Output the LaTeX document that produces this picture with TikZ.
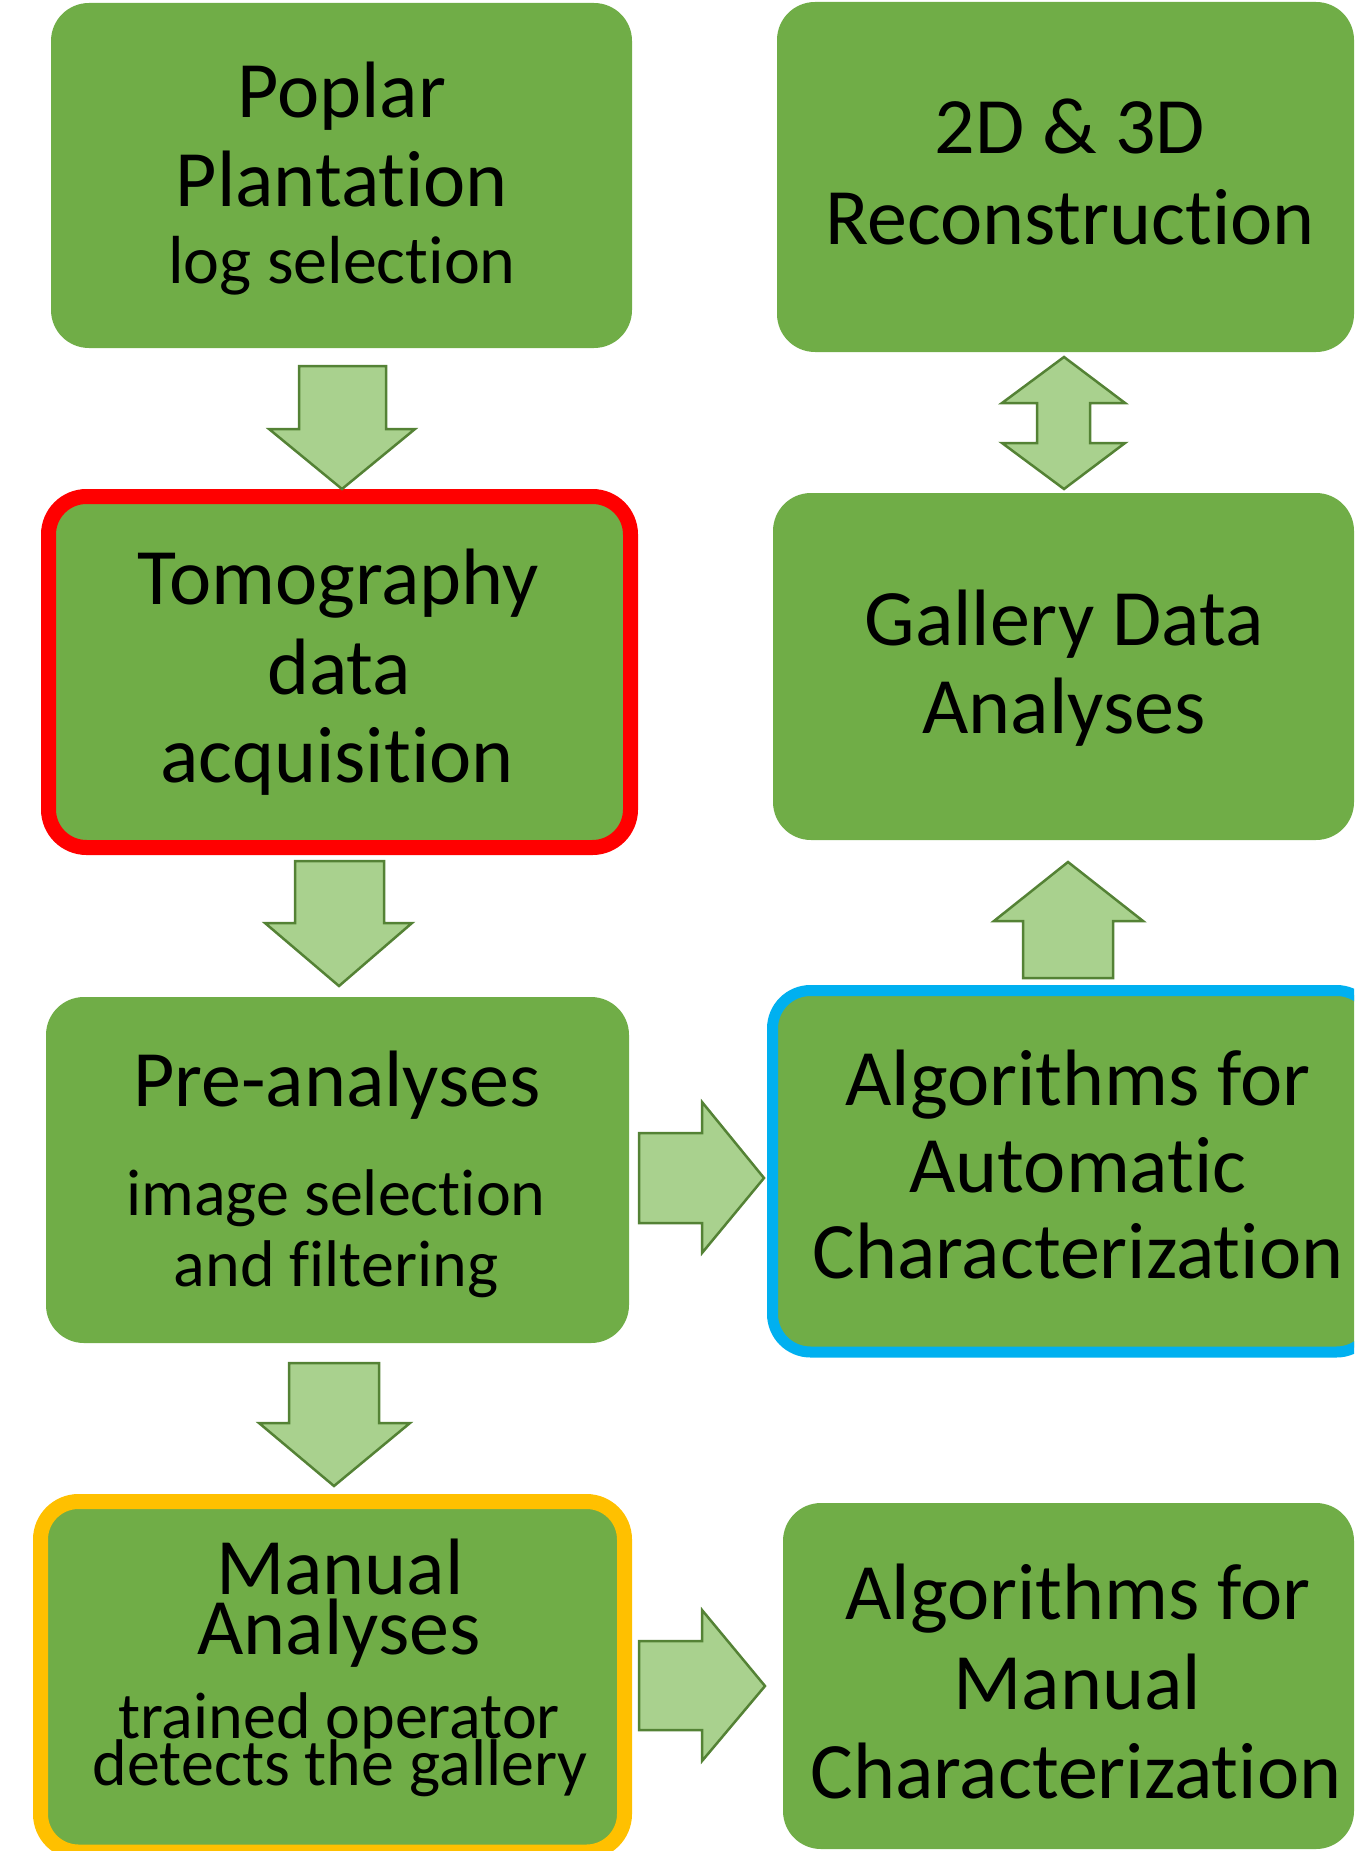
\documentclass[tikz,border=0pt]{standalone}
\usepackage{fontspec}
\setmainfont{Carlito}[Ligatures=NoCommon]

\definecolor{boxgreen}{HTML}{70AD47}
\definecolor{arrowfill}{HTML}{A9D18E}
\definecolor{arrowline}{HTML}{548235}
\definecolor{hlred}{HTML}{FF0000}
\definecolor{hlblue}{HTML}{00B0F0}
\definecolor{hlyellow}{HTML}{FFC000}

\tikzset{
  stage/.style={rectangle, fill=boxgreen, draw=none, rounded corners=38pt,
    inner sep=0pt, outer sep=0pt, anchor=north west},
  bigtext/.style={font=\fontsize{80}{91}\selectfont, inner sep=0pt, anchor=base},
  smalltext/.style={font=\fontsize{66}{72}\selectfont, inner sep=0pt, anchor=base},
  blockarrow/.style={fill=arrowfill, draw=arrowline, line width=2.5pt, line join=miter},
}

\begin{document}
\begin{tikzpicture}[x=1pt, y=-1pt]
  \useasboundingbox (0,0) rectangle (1354,1851);
  \clip (0,0) rectangle (1354,1851);

  % process boxes
  \node[stage, minimum width=581pt, minimum height=345pt] (poplar) at (51,3) {};
  \node[stage, minimum width=577pt, minimum height=350pt] (recon) at (777,2) {};
  \node[stage, draw=hlred, line width=15pt, minimum width=582pt, minimum height=351pt] (tomo) at (48.5,496.5) {};
  \node[stage, minimum width=581pt, minimum height=347pt] (gallery) at (773,493) {};
  \node[stage, minimum width=583pt, minimum height=346pt] (pre) at (46,997) {};
  \node[stage, draw=hlblue, line width=11pt, minimum width=602pt, minimum height=361.5pt] (auto) at (772.5,990.5) {};
  \node[stage, draw=hlyellow, line width=15pt, minimum width=584pt, minimum height=350.5pt] (manual) at (40.5,1501.5) {};
  \node[stage, minimum width=571pt, minimum height=346pt] (mchar) at (783,1503) {};

  % box texts
  \node[bigtext] (poplar-a) at (342,118) {Poplar};
  \node[bigtext] (poplar-b) at (342,207) {Plantation};
  \node[bigtext, font=\fontsize{68}{74}\selectfont] (poplar-c) at (342,284) {log selection};

  \node[bigtext] (recon-a) at (1070,154) {2D \& 3D};
  \node[bigtext] (recon-b) at (1070,245) {Reconstruction};

  \node[bigtext] (tomo-a) at (338,604) {Tomography};
  \node[bigtext] (tomo-b) at (339,694) {data};
  \node[bigtext] (tomo-c) at (337,782) {acquisition};

  \node[bigtext] (gallery-a) at (1064,645) {Gallery Data};
  \node[bigtext] (gallery-b) at (1064,733) {Analyses};

  \node[bigtext] (pre-a) at (337,1106) {Pre-analyses};
  \node[smalltext] (pre-b) at (336,1215) {image selection};
  \node[smalltext] (pre-c) at (336,1286) {and filtering};

  \node[bigtext] (auto-a) at (1078,1105) {Algorithms for};
  \node[bigtext] (auto-b) at (1078,1192) {Automatic};
  \node[bigtext] (auto-c) at (1078,1278) {Characterization};

  \node[bigtext] (manual-a) at (340,1594) {Manual};
  \node[bigtext] (manual-b) at (339,1654) {Analyses};
  \node[smalltext] (manual-c) at (339,1738) {trained operator};
  \node[smalltext] (manual-d) at (340,1785) {detects the gallery};

  \node[bigtext] (mchar-a) at (1078,1619) {Algorithms for};
  \node[bigtext] (mchar-b) at (1077,1709) {Manual};
  \node[bigtext] (mchar-c) at (1076,1798) {Characterization};

  % block arrows between the stages
  \draw[blockarrow] (299,366) -- (386,366) -- (386,429) -- (415,429) -- (342,489)
    -- (269,429) -- (299,429) -- cycle;
  \draw[blockarrow] (295,861) -- (384,861) -- (384,923) -- (412,923) -- (339,986)
    -- (265,923) -- (295,923) -- cycle;
  \draw[blockarrow] (289,1363) -- (379,1363) -- (379,1423) -- (410,1423) -- (334,1486)
    -- (259,1423) -- (289,1423) -- cycle;
  \draw[blockarrow] (1023,978) -- (1113,978) -- (1113,921) -- (1143,921) -- (1068,862)
    -- (994,921) -- (1023,921) -- cycle;
  \draw[blockarrow] (1064,357) -- (1125,403) -- (1090,403) -- (1090,443) -- (1125,443)
    -- (1064,489) -- (1002,443) -- (1037,443) -- (1037,403) -- (1002,403) -- cycle;
  \draw[blockarrow] (639,1133) -- (702,1133) -- (702,1102) -- (764,1178) -- (702,1253)
    -- (702,1223) -- (639,1223) -- cycle;
  \draw[blockarrow] (639,1641) -- (702,1641) -- (702,1610) -- (765,1686) -- (702,1761)
    -- (702,1730) -- (639,1730) -- cycle;
\end{tikzpicture}
\end{document}
